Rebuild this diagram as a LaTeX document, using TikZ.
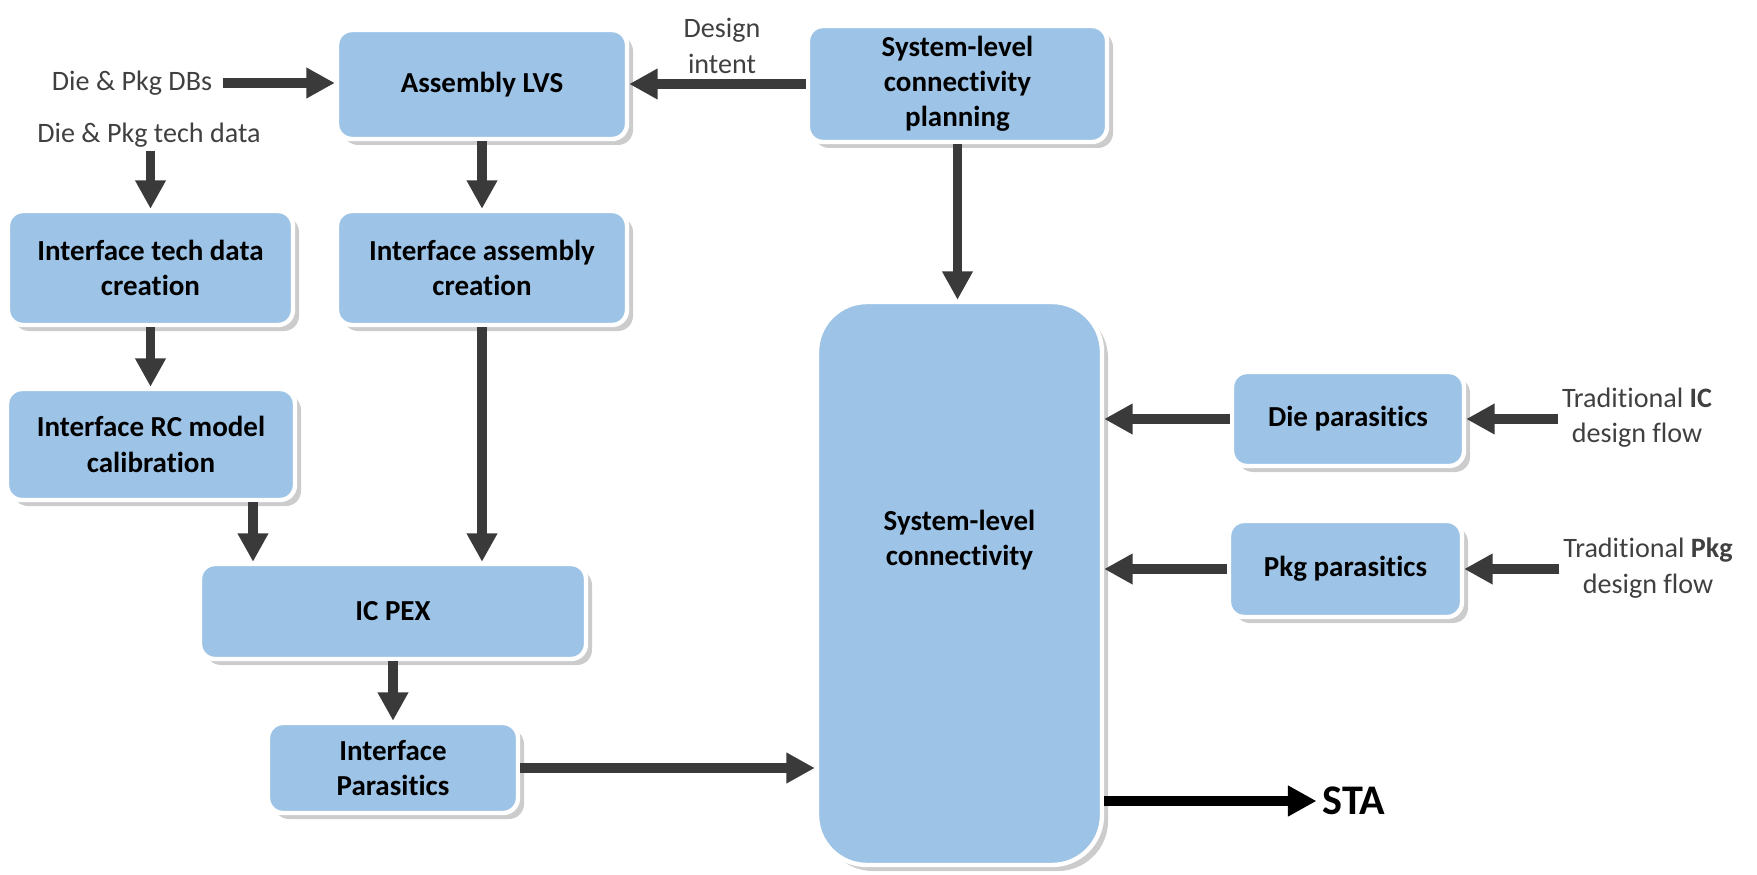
\documentclass[tikz,border=0pt]{standalone}
\usepackage{fontspec}
\setmainfont{Carlito}[RawFeature={-liga;-clig;-calt;-rlig;-dlig}]
\usetikzlibrary{positioning, arrows.meta, shadows}
\definecolor{boxblue}{HTML}{9DC3E6}
\definecolor{arrowgray}{HTML}{3A3A3A}
\definecolor{textgray}{HTML}{404040}

\begin{document}
\begin{tikzpicture}[
    % GLOBAL CFG
    font=\fontsize{16}{20}\selectfont,
    >={Triangle[width=5.8mm, length=5.7mm]},
    % Styles
    box/.style={% For main boxes
        rectangle,
        rounded corners=3mm,
        draw=white,
        line width=2.5pt,
        fill=boxblue,
        drop shadow={shadow xshift=1.2mm, shadow yshift=-1.2mm, fill=black!40},
        font=\fontsize{16.5}{20}\selectfont\bfseries,
        align=center,
        inner sep=2pt,
    },
    bigbox/.style={% For the large box
        box,
        rounded corners=10mm,
    },
    boxtext/.style={% For text set inside the large box
        font=\fontsize{16.5}{20}\selectfont\bfseries,
        align=center,
    },
    mylabel/.style={% For external inputs
        text=textgray,
        align=center,
        inner sep=2pt,
    },
    flow/.style={% Thick arrows
        ->,
        draw=arrowgray,
        line width=1.9mm,
    },
    ]
    \useasboundingbox (0,0) rectangle (35.14,-17.5);

    % Draw boxes
    \node [box, minimum width=5.8cm, minimum height=2.18cm] (lvs) at (9.64,-1.69) {Assembly LVS};
    \node [box, minimum width=5.98cm, minimum height=2.32cm] (plan) at (19.15,-1.68) {System-level\\connectivity\\planning};
    \node [box, minimum width=5.7cm, minimum height=2.28cm] (itdc) at (3.01,-5.36) {Interface tech data\\creation};
    \node [box, minimum width=5.8cm, minimum height=2.28cm] (iac) at (9.64,-5.36) {Interface assembly\\creation};
    \node [box, minimum width=5.76cm, minimum height=2.22cm] (irc) at (3.02,-8.89) {Interface RC model\\calibration};
    \node [box, minimum width=7.72cm, minimum height=1.9cm] (icpex) at (7.86,-12.23) {IC PEX};
    \node [box, minimum width=5.0cm, minimum height=1.8cm] (ip) at (7.86,-15.36) {Interface\\Parasitics};
    \node [bigbox, minimum width=5.7cm, minimum height=11.26cm] (slc) at (19.19,-11.67) {};
    \node [boxtext] (slctext) at (19.19,-10.8) {System-level\\connectivity};
    \node [box, minimum width=4.64cm, minimum height=1.88cm] (diep) at (26.96,-8.38) {Die parasitics};
    \node [box, minimum width=4.66cm, minimum height=1.92cm] (pkgp) at (26.91,-11.38) {Pkg parasitics};

    % Draw external inputs and outputs
    \node [mylabel] (dbs) at (2.64,-1.66) {Die \& Pkg DBs};
    \node [mylabel] (techdata) at (2.98,-2.7) {Die \& Pkg tech data};
    \node [mylabel] (intent) at (14.44,-0.92) {Design\\intent};
    \node [mylabel] (tradic) at (32.74,-8.36) {Traditional \textbf{IC}\\design flow};
    \node [mylabel] (tradpkg) at (32.96,-11.36) {Traditional \textbf{Pkg}\\design flow};
    \node [font=\fontsize{24}{28}\selectfont\bfseries] (sta) at (27.08,-16.02) {STA};

    % Connect all
    % Inputs
    \draw [flow, shorten <=1.5mm] (dbs.east) -- (dbs.east -| lvs.west);
    \draw [flow] (techdata.south -| itdc.north) -- (itdc.north);
    \draw [flow] (plan.west) -- (plan.west -| lvs.east);
    \draw [flow] (tradic.west |- diep) -- (diep.east);
    \draw [flow] (tradpkg.west |- pkgp) -- (pkgp.east);

    % Internal
    \draw [flow] (lvs.south) -- (lvs.south |- iac.north);
    \draw [flow] (plan.south) -- (plan.south |- slc.north);
    \draw [flow] (itdc.south) -- (itdc.south |- irc.north);
    \draw [flow] ([xshift=2.04cm]irc.south) -- ([xshift=2.04cm]irc.south |- icpex.north);
    \draw [flow] (iac.south) -- (iac.south |- icpex.north);
    \draw [flow] (icpex.south) -- (icpex.south |- ip.north);
    \draw [flow] (ip.east) -- (ip.east -| slc.west);
    \draw [flow] (diep.west) -- (diep.west -| slc.east);
    \draw [flow] (pkgp.west) -- (pkgp.west -| slc.east);

    % Output
    \draw [flow, draw=black] (sta -| slc.east) -- (sta.west);

\end{tikzpicture}
\end{document}
